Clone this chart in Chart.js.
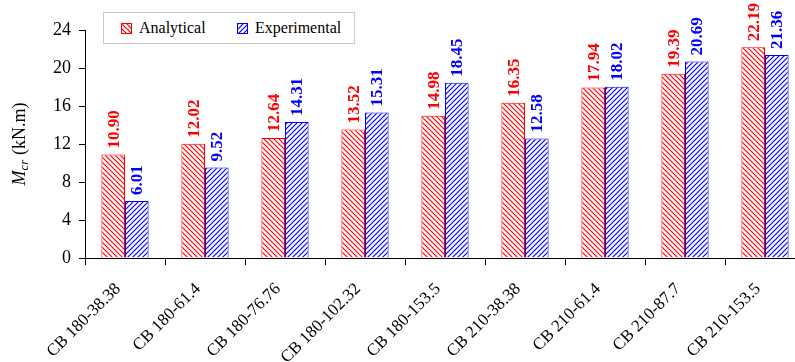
<!DOCTYPE html>
<html>
<head>
<meta charset="utf-8">
<script src="https://cdn.jsdelivr.net/npm/chart.js@4/dist/chart.umd.min.js"></script>
<style>
html,body{margin:0;padding:0;background:#fff;overflow:hidden;width:795px;height:362px;}
#wrap{position:absolute;left:0;top:0;width:815px;height:362px;}
#legend{position:absolute;left:103px;top:12px;width:250px;height:30px;border:1px solid #c8c8c8;background:#fff;
 font-family:"Liberation Serif","Times New Roman",serif;font-size:16px;color:#000;}
#legend .it{position:absolute;top:6px;line-height:18px;white-space:nowrap;}
#legend .sw{display:inline-block;width:9px;height:9px;vertical-align:-1px;margin-right:7px;}
</style>
</head>
<body>
<div id="wrap"><canvas id="c"></canvas></div>
<div id="legend">
 <span class="it" style="left:17px"><span class="sw" id="sw0"></span>Analytical</span>
 <span class="it" style="left:133px"><span class="sw" id="sw1"></span>Experimental</span>
</div>
<script>
const categories = ["CB 180-38.38","CB 180-61.4","CB 180-76.76","CB 180-102.32","CB 180-153.5","CB 210-38.38","CB 210-61.4","CB 210-87.7","CB 210-153.5"];
const analytical = [10.90, 12.02, 12.64, 13.52, 14.98, 16.35, 17.94, 19.39, 22.19];
const experimental = [6.01, 9.52, 14.31, 15.31, 18.45, 12.58, 18.02, 20.69, 21.36];
const seriesNames = ["Analytical", "Experimental"];
const yTicks = [0, 4, 8, 12, 16, 20, 24];

const RED = "#ff0000", BLUE = "#0000ff";
function hatch(color, back) {
  const s = 5;
  const c = document.createElement("canvas");
  c.width = s; c.height = s;
  const x = c.getContext("2d");
  x.fillStyle = "#fff"; x.fillRect(0, 0, s, s);
  x.strokeStyle = color; x.lineWidth = 1.2;
  x.beginPath();
  if (back) {
    x.moveTo(-1, -1); x.lineTo(s + 1, s + 1);
    x.moveTo(-2, s - 2); x.lineTo(2, s + 2);
    x.moveTo(s - 2, -2); x.lineTo(s + 2, 2);
  } else {
    x.moveTo(-1, s + 1); x.lineTo(s + 1, -1);
    x.moveTo(-2, 2); x.lineTo(2, -2);
    x.moveTo(s - 2, s + 2); x.lineTo(s + 2, s - 2);
  }
  x.stroke();
  return c;
}
const tR = hatch(RED, true), tB = hatch(BLUE, false);
const ctx0 = document.getElementById("c").getContext("2d");
const pR = ctx0.createPattern(tR, "repeat"), pB = ctx0.createPattern(tB, "repeat");
function sw(id, tile, col) {
  const e = document.getElementById(id);
  e.style.backgroundImage = "url(" + tile.toDataURL() + ")";
  e.style.border = "1px solid " + col;
}
sw("sw0", tR, RED); sw("sw1", tB, BLUE);

const FONT = "'Liberation Serif','Times New Roman',serif";

const valueLabels = {
  id: "valueLabels",
  afterDatasetsDraw(chart) {
    const c = chart.ctx;
    chart.data.datasets.forEach((ds, i) => {
      const meta = chart.getDatasetMeta(i);
      meta.data.forEach((el, j) => {
        c.save();
        c.translate(el.x + 1, el.y - 6);
        c.rotate(-Math.PI / 2);
        c.font = "bold 17px " + FONT;
        c.fillStyle = ds.borderColor;
        c.textAlign = "left";
        c.textBaseline = "middle";
        c.fillText(ds.data[j].toFixed(2), 0, 0);
        c.restore();
      });
    });
  }
};

const yTitle = {
  id: "yTitle",
  afterDraw(chart) {
    const c = chart.ctx;
    c.save();
    c.translate(20, 144);
    c.rotate(-Math.PI / 2);
    c.fillStyle = "#000";
    c.textBaseline = "alphabetic";
    const parts = [["italic 18px " + FONT, "M", 0], ["italic 13px " + FONT, "cr", 3], ["18px " + FONT, " (kN.m)", 0]];
    let w = 0;
    parts.forEach(p => { c.font = p[0]; w += c.measureText(p[1]).width; });
    let x = -w / 2;
    parts.forEach(p => { c.font = p[0]; c.fillText(p[1], x, p[2] + 5); x += c.measureText(p[1]).width; });
    c.restore();
  }
};

new Chart(ctx0, {
  type: "bar",
  data: {
    labels: categories,
    datasets: [
      { label: seriesNames[0], data: analytical, backgroundColor: pR, borderColor: RED, borderWidth: 1 },
      { label: seriesNames[1], data: experimental, backgroundColor: pB, borderColor: BLUE, borderWidth: 1 }
    ]
  },
  options: {
    responsive: true,
    maintainAspectRatio: false,
    animation: false,
    devicePixelRatio: 1,
    layout: { padding: { top: 30, right: 10, left: 0, bottom: 0 } },
    plugins: { legend: { display: false }, tooltip: { enabled: false } },
    datasets: { bar: { categoryPercentage: 0.59, barPercentage: 1 } },
    scales: {
      x: {
        grid: { display: true, drawOnChartArea: false, drawTicks: true, tickLength: 7, color: "#000", offset: true },
        border: { color: "#000", width: 1 },
        ticks: { color: "#000", font: { family: FONT, size: 17 }, minRotation: 45, maxRotation: 45, autoSkip: false, padding: 14, labelOffset: -7 },
        afterFit(s) { s.height = 104; }
      },
      y: {
        min: 0, max: 24,
        afterBuildTicks(s) { s.ticks = yTicks.map(v => ({ value: v })); },
        grid: { display: true, drawOnChartArea: false, drawTicks: true, tickLength: 6, color: "#000" },
        border: { color: "#000", width: 1 },
        ticks: { color: "#000", font: { family: FONT, size: 18 }, padding: 8 },
        afterFit(s) { s.width = 85; }
      }
    }
  },
  plugins: [valueLabels, yTitle]
});
</script>
</body>
</html>
